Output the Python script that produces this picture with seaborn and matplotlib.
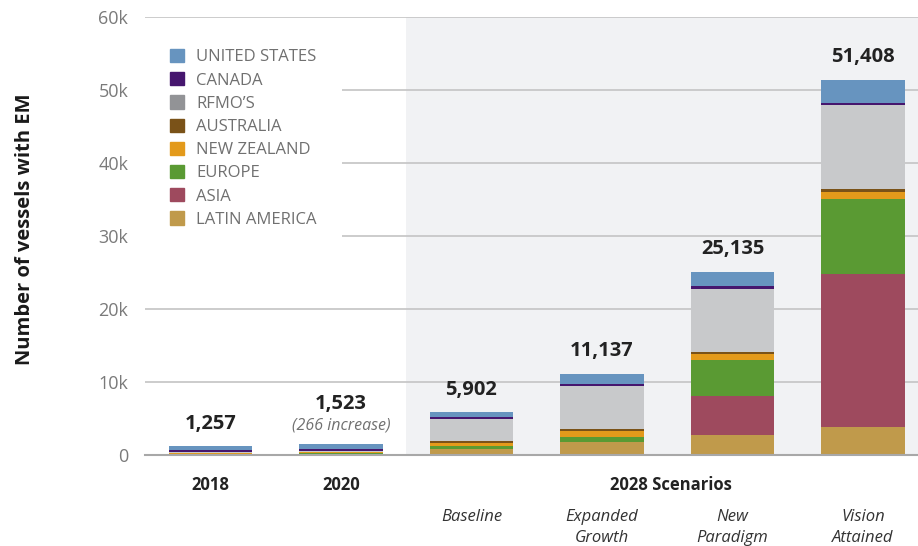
import numpy as np
import pandas as pd
import matplotlib
matplotlib.use('Agg')
import matplotlib.pyplot as plt
import matplotlib.patches as mpatches
import seaborn as sns

# Data (vessels with EM)
categories = ['2018', '2020', 'Baseline', 'Expanded Growth', 'New Paradigm', 'Vision Attained']
latin_america = [100, 70, 820, 1780, 2740, 3840]
asia = [20, 20, 0, 0, 5340, 20980]
europe = [80, 200, 410, 730, 4930, 10300]
new_zealand = [50, 60, 410, 820, 820, 960]
australia = [27, 33, 272, 270, 270, 410]
rfmo = [200, 140, 3040, 5797, 8575, 11500]
canada = [250, 320, 270, 370, 410, 268]
united_states = [530, 680, 680, 1370, 2050, 3150]

totals = ['1,257', '1,523', '5,902', '11,137', '25,135', '51,408']
x_labels_top = ['2018', '2020']
scenario_labels = ['Baseline', 'Expanded\nGrowth', 'New\nParadigm', 'Vision\nAttained']

# bottom -> top stacking order
layers = [
    ('LATIN AMERICA', latin_america, '#c09a4b'),
    ('ASIA', asia, '#9e4a5e'),
    ('EUROPE', europe, '#5a9a33'),
    ('NEW ZEALAND', new_zealand, '#e39a1b'),
    ('AUSTRALIA', australia, '#7a5218'),
    ("RFMO\u2019S", rfmo, '#c8c9cb'),
    ('CANADA', canada, '#46166e'),
    ('UNITED STATES', united_states, '#6794bf'),
]
legend_colors = {"RFMO\u2019S": '#929396'}

sns.set_style('white')
plt.rcParams['font.family'] = ['Open Sans', 'DejaVu Sans']

fig = plt.figure(figsize=(9.18, 5.46), dpi=100)
ax = fig.add_axes([145 / 918, 91 / 546, 773 / 918, 438 / 546])

df = pd.DataFrame({name: vals for name, vals, _ in layers}, index=categories)
cum = df.cumsum(axis=1)

# draw tallest cumulative first so lower layers overlay it
for name, _, color in reversed(layers):
    sns.barplot(x=categories, y=cum[name].values, order=categories, color=color,
                saturation=1, width=0.64, linewidth=0, errorbar=None, ax=ax, zorder=3)

ax.axvspan(1.5, 6, color='#f1f2f4', zorder=0, lw=0)
ax.set_xlim(-0.5, 5.42)
ax.set_ylim(0, 60000)
ax.set_yticks(np.arange(0, 60001, 10000))
ax.set_yticklabels(['0'] + [f'{v}k' for v in range(10, 61, 10)], color='#7a7a7a', fontsize=13)
ax.tick_params(axis='y', length=0, pad=12)
ax.yaxis.grid(True, color='#c4c4c4', lw=1.2, zorder=1)
ax.set_axisbelow(True)
for s in ['top', 'right', 'left']:
    ax.spines[s].set_visible(False)
ax.spines['bottom'].set_color('#a8a8a8')
ax.spines['bottom'].set_linewidth(1.5)
ax.spines['bottom'].set_zorder(4)

ax.set_xticks([])
ax.set_xlabel('')
ax.set_ylabel('Number of vessels with EM', fontsize=14.5, fontweight='bold', color='#1a1a1a')
ax.yaxis.set_label_coords(-0.142, 0.516)

# totals above bars
tot_vals = cum['UNITED STATES'].values
for i, t in enumerate(totals):
    off = 29 if i == 1 else 16
    ax.annotate(t, (i, tot_vals[i]), xytext=(0, off), textcoords='offset points',
                ha='center', va='center', fontsize=14.5, fontweight='bold', color='#222222')
ax.annotate('(266 increase)', (1, tot_vals[1]), xytext=(0, 13.5), textcoords='offset points',
            ha='center', va='center', fontsize=11.5, style='italic', color='#707070')

# x labels
xt = ax.get_xaxis_transform()
for i, lab in enumerate(x_labels_top):
    ax.text(i, -30 / 438, lab, transform=xt, ha='center', va='center',
            fontsize=12, fontweight='bold', color='#222222')
ax.text(3.53, -30 / 438, '2028 Scenarios', transform=xt, ha='center', va='center',
        fontsize=12, fontweight='bold', color='#222222')
for i, lab in enumerate(scenario_labels):
    ax.text(i + 2, -54 / 438, lab, transform=xt, ha='center', va='top',
            fontsize=12, style='italic', color='#333333', linespacing=1.4)

# legend
handles = [mpatches.Patch(color=legend_colors.get(n, c), label=n) for n, _, c in reversed(layers)]
leg = ax.legend(handles=handles, loc='upper left', bbox_to_anchor=(0, 0.984), borderaxespad=0,
                frameon=True, fancybox=False, facecolor='white', edgecolor='none', framealpha=1,
                fontsize=12, handlelength=0.84, handleheight=0.84, handletextpad=0.72,
                labelspacing=0.41, borderpad=1.5)
for txt in leg.get_texts():
    txt.set_color('#707070')
leg.set_zorder(5)

fig.savefig('out.png', dpi=100)
